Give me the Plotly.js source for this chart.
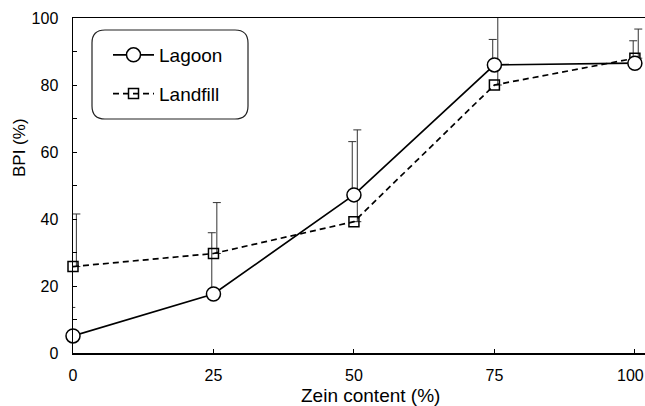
<!DOCTYPE html>
<html>
<head>
<meta charset="utf-8">
<script src="https://cdn.plot.ly/plotly-3.0.1.min.js"></script>
<style>html,body{margin:0;padding:0;background:#fff;}#chart{width:645px;height:406px;}</style>
</head>
<body>
<div id="chart"></div>
<script>
// Data
var zein = [0, 25, 50, 75, 100];
var lagoon = [5.1, 17.6, 47.2, 86.0, 86.5];
var lagoonErr = [8.5, 18.3, 15.9, 7.6, 6.7];
var landfill = [25.8, 29.7, 39.2, 80.0, 88.0];
var landfillErr = [15.7, 15.2, 27.4, 22.4, 8.7];
var xTicks = [0, 25, 50, 75, 100];
var yTicks = [0, 20, 40, 60, 80, 100];

var FONT = 'Liberation Sans, Arial, Helvetica, sans-serif';
var L = 73, R = 0, T = 18, B = 53, W = 645, H = 406;
var pw = W - L - R, ph = H - T - B;
function px2x(p){ return (p - L) / pw; }
function py2y(p){ return (H - B - p) / ph; }

// small horizontal offsets of the error bars, as in the reference
var lagErrX = zein.map(function(v){ return v - 0.3; });
var lanErrX = zein.map(function(v){ return v + 0.6; });

var traces = [
  {x: lagErrX, y: lagoon, mode: 'markers', marker: {opacity: 0, size: 1},
   error_y: {type: 'data', symmetric: false, array: lagoonErr, arrayminus: lagoon.map(function(){return 0;}),
             color: '#333', thickness: 1, width: 4},
   showlegend: false, hoverinfo: 'skip', cliponaxis: false},
  {x: lanErrX, y: landfill, mode: 'markers', marker: {opacity: 0, size: 1},
   error_y: {type: 'data', symmetric: false, array: landfillErr, arrayminus: landfill.map(function(){return 0;}),
             color: '#333', thickness: 1, width: 4},
   showlegend: false, hoverinfo: 'skip', cliponaxis: false},
  {x: zein, y: landfill, name: 'Landfill', mode: 'lines+markers', legendgroup: 'b', legendrank: 2,
   line: {color: '#000', width: 1.7, dash: '6px,4px'},
   marker: {symbol: 'square-open', size: 10, color: '#000', line: {width: 1.5}},
   cliponaxis: false},
  {x: zein, y: lagoon, name: 'Lagoon', mode: 'lines+markers', legendgroup: 'a', legendrank: 1,
   line: {color: '#000', width: 1.7},
   marker: {symbol: 'circle', size: 14, color: '#fff', line: {color: '#000', width: 1.5}},
   cliponaxis: false}
];

var bx0 = px2x(92), bx1 = px2x(248), by1 = py2y(30), by0 = py2y(119);
var rx = 13 / pw, ry = 13 / ph;
var boxPath = 'M' + (bx0+rx) + ',' + by1 + ' L' + (bx1-rx) + ',' + by1 +
  ' Q' + bx1 + ',' + by1 + ' ' + bx1 + ',' + (by1-ry) +
  ' L' + bx1 + ',' + (by0+ry) + ' Q' + bx1 + ',' + by0 + ' ' + (bx1-rx) + ',' + by0 +
  ' L' + (bx0+rx) + ',' + by0 + ' Q' + bx0 + ',' + by0 + ' ' + bx0 + ',' + (by0+ry) +
  ' L' + bx0 + ',' + (by1-ry) + ' Q' + bx0 + ',' + by1 + ' ' + (bx0+rx) + ',' + by1 + ' Z';

// the last x tick label sits at the right edge; draw it as an annotation pulled inside
var lastTick = xTicks[xTicks.length - 1];
var xTickText = xTicks.map(function(v){ return v === lastTick ? '' : String(v); });

var layout = {
  width: W, height: H,
  margin: {l: L, r: R, t: T, b: B, pad: 0},
  paper_bgcolor: '#fff', plot_bgcolor: '#fff',
  font: {family: FONT, color: '#000', size: 16},
  showlegend: true,
  legend: {x: px2x(108), y: py2y(36), xanchor: 'left', yanchor: 'top',
           bgcolor: 'rgba(0,0,0,0)', borderwidth: 0, font: {family: FONT, size: 19, color: '#000'},
           traceorder: 'grouped', tracegroupgap: 11, itemwidth: 41},
  xaxis: {range: [0, 101.8], tickvals: xTicks, ticktext: xTickText,
          ticks: 'inside', ticklen: 4, tickwidth: 1, tickcolor: '#000',
          showline: true, linecolor: '#000', linewidth: 1.5, mirror: true,
          showgrid: false, zeroline: false, ticklabelstandoff: 7,
          tickfont: {family: FONT, size: 16, color: '#000'}},
  yaxis: {range: [0, 100], tickvals: yTicks, ticktext: yTicks.map(String),
          ticks: 'inside', ticklen: 4, tickwidth: 1, tickcolor: '#000',
          minor: {tickvals: [10, 30, 50, 70, 90], ticks: 'inside', ticklen: 4, tickcolor: '#000', showgrid: false},
          showline: true, linecolor: '#000', linewidth: 1.5,
          showgrid: false, zeroline: false, ticklabelstandoff: 10, ticklabeloverflow: 'allow',
          tickfont: {family: FONT, size: 16, color: '#000'}},
  shapes: [{type: 'path', xref: 'paper', yref: 'paper', path: boxPath,
            line: {color: '#222', width: 1.2}, fillcolor: 'rgba(0,0,0,0)'}],
  annotations: [
    {text: String(lastTick), xref: 'x', yref: 'paper', x: lastTick, y: py2y(375),
     xanchor: 'right', yanchor: 'middle', xshift: 10, showarrow: false, borderpad: 0,
     font: {family: FONT, size: 16, color: '#000'}},
    {text: 'Zein content (%)', xref: 'paper', yref: 'paper', x: px2x(370), y: py2y(396),
     xanchor: 'center', yanchor: 'middle', showarrow: false, font: {family: FONT, size: 19, color: '#000'}},
    {text: 'BPI (%)', xref: 'paper', yref: 'paper', x: px2x(19), y: py2y(148),
     xanchor: 'center', yanchor: 'middle', textangle: -90, showarrow: false, font: {family: FONT, size: 17, color: '#000'}}
  ]
};

Plotly.newPlot('chart', traces, layout, {staticPlot: true, displayModeBar: false});
</script>
</body>
</html>
